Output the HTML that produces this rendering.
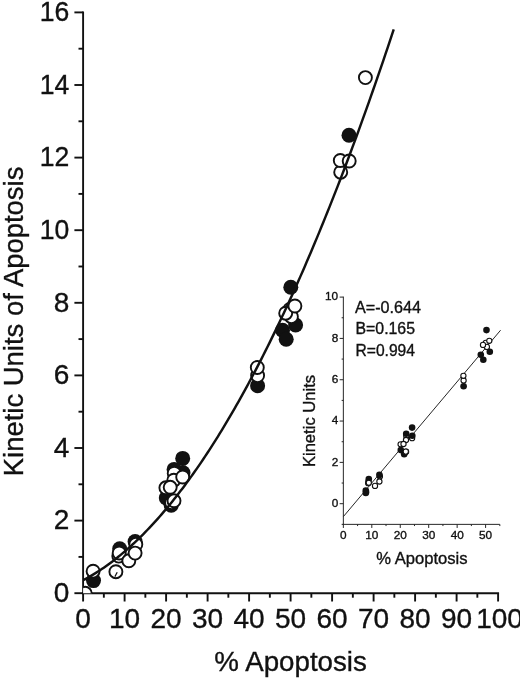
<!DOCTYPE html>
<html lang="en"><head><meta charset="utf-8"><title>Kinetic Units of Apoptosis vs % Apoptosis</title>
<style>html,body{margin:0;padding:0;background:#fff;}body{width:520px;height:679px;overflow:hidden;}svg{display:block;}text{font-family:"Liberation Sans", Arial, Helvetica, sans-serif;fill:#111;stroke:#111;stroke-width:0.35px;}</style>
</head><body>
<svg width="520" height="679" viewBox="0 0 520 679">
<rect x="0" y="0" width="520" height="679" fill="#fff"/>
<defs><clipPath id="plot"><rect x="83.1" y="0" width="440" height="593.2"/></clipPath></defs>
<g stroke="#111" stroke-width="1.90" fill="none" stroke-linecap="butt">
<path d="M83.10 11.45 V594.15"/>
<path d="M82.15 593.20 H499.05"/>
<path d="M74.40 593.20 H83.10"/>
<path d="M78.50 556.90 H83.10"/>
<path d="M74.40 520.60 H83.10"/>
<path d="M78.50 484.30 H83.10"/>
<path d="M74.40 448.00 H83.10"/>
<path d="M78.50 411.70 H83.10"/>
<path d="M74.40 375.40 H83.10"/>
<path d="M78.50 339.10 H83.10"/>
<path d="M74.40 302.80 H83.10"/>
<path d="M78.50 266.50 H83.10"/>
<path d="M74.40 230.20 H83.10"/>
<path d="M78.50 193.90 H83.10"/>
<path d="M74.40 157.60 H83.10"/>
<path d="M78.50 121.30 H83.10"/>
<path d="M74.40 85.00 H83.10"/>
<path d="M78.50 48.70 H83.10"/>
<path d="M74.40 12.40 H83.10"/>
<path d="M83.10 593.20 V601.50"/>
<path d="M103.85 593.20 V597.70"/>
<path d="M124.60 593.20 V601.50"/>
<path d="M145.35 593.20 V597.70"/>
<path d="M166.10 593.20 V601.50"/>
<path d="M186.85 593.20 V597.70"/>
<path d="M207.60 593.20 V601.50"/>
<path d="M228.35 593.20 V597.70"/>
<path d="M249.10 593.20 V601.50"/>
<path d="M269.85 593.20 V597.70"/>
<path d="M290.60 593.20 V601.50"/>
<path d="M311.35 593.20 V597.70"/>
<path d="M332.10 593.20 V601.50"/>
<path d="M352.85 593.20 V597.70"/>
<path d="M373.60 593.20 V601.50"/>
<path d="M394.35 593.20 V597.70"/>
<path d="M415.10 593.20 V601.50"/>
<path d="M435.85 593.20 V597.70"/>
<path d="M456.60 593.20 V601.50"/>
<path d="M477.35 593.20 V597.70"/>
<path d="M498.10 593.20 V601.50"/>
</g>
<g font-size="28" text-anchor="end">
<text transform="translate(69.3 602.0) scale(1 1)">0</text>
<text transform="translate(69.3 529.4) scale(1 1)">2</text>
<text transform="translate(69.3 456.8) scale(1 1)">4</text>
<text transform="translate(69.3 384.2) scale(1 1)">6</text>
<text transform="translate(69.3 311.6) scale(1 1)">8</text>
<text transform="translate(69.3 239.0) scale(0.95 1)">10</text>
<text transform="translate(69.3 166.4) scale(0.95 1)">12</text>
<text transform="translate(69.3 93.8) scale(0.95 1)">14</text>
<text transform="translate(69.3 21.2) scale(0.95 1)">16</text>
</g>
<g font-size="28" text-anchor="middle">
<text x="83.1" y="628.0">0</text>
<text x="124.6" y="628.0">10</text>
<text x="166.1" y="628.0">20</text>
<text x="207.6" y="628.0">30</text>
<text x="249.1" y="628.0">40</text>
<text x="290.6" y="628.0">50</text>
<text x="332.1" y="628.0">60</text>
<text x="373.6" y="628.0">70</text>
<text x="415.1" y="628.0">80</text>
<text x="456.6" y="628.0">90</text>
<text x="499.5" y="628.0">100</text>
</g>
<text transform="translate(290.6 670.8) scale(0.99 1)" font-size="28" text-anchor="middle">% Apoptosis</text>
<text transform="translate(23.2 321.4) rotate(-90) scale(0.98 1)" font-size="28" text-anchor="middle">Kinetic Units of Apoptosis</text>
<g clip-path="url(#plot)">
<g fill="#111" stroke="none">
<circle cx="93.5" cy="580.6" r="7.5"/>
<circle cx="119.7" cy="548.8" r="7.5"/>
<circle cx="135.1" cy="541.5" r="7.5"/>
<circle cx="166.3" cy="497.9" r="7.5"/>
<circle cx="171.2" cy="505.2" r="7.5"/>
<circle cx="174.1" cy="469.4" r="7.5"/>
<circle cx="183.0" cy="472.8" r="7.5"/>
<circle cx="182.7" cy="458.4" r="7.5"/>
<circle cx="257.6" cy="385.7" r="7.5"/>
<circle cx="282.5" cy="330.3" r="7.5"/>
<circle cx="286.2" cy="339.2" r="7.5"/>
<circle cx="295.6" cy="325.0" r="7.5"/>
<circle cx="290.8" cy="287.2" r="7.5"/>
<circle cx="349.0" cy="135.2" r="7.5"/>
</g>
<g fill="#fff" stroke="#111" stroke-width="1.9">
<circle cx="85.2" cy="593.3" r="6.5"/>
<circle cx="93.1" cy="571.2" r="6.5"/>
<circle cx="118.8" cy="556.1" r="6.5"/>
<circle cx="119.2" cy="553.0" r="6.5"/>
<circle cx="115.9" cy="571.7" r="6.5"/>
<circle cx="135.8" cy="544.4" r="6.5"/>
<circle cx="174.2" cy="473.2" r="6.5"/>
<circle cx="173.8" cy="480.2" r="6.5"/>
<circle cx="182.7" cy="477.0" r="6.5"/>
<circle cx="165.9" cy="487.8" r="6.5"/>
<circle cx="170.2" cy="487.3" r="6.5"/>
<circle cx="171.6" cy="502.7" r="6.5"/>
<circle cx="174.0" cy="500.8" r="6.5"/>
<circle cx="257.6" cy="375.6" r="6.5"/>
<circle cx="257.3" cy="367.5" r="6.5"/>
<circle cx="289.8" cy="309.5" r="6.5"/>
<circle cx="291.4" cy="316.7" r="6.5"/>
<circle cx="285.7" cy="313.2" r="6.5"/>
<circle cx="294.9" cy="306.0" r="6.5"/>
<circle cx="340.7" cy="172.2" r="6.5"/>
<circle cx="340.3" cy="160.5" r="6.5"/>
<circle cx="349.2" cy="161.0" r="6.5"/>
<circle cx="365.4" cy="77.6" r="6.5"/>
</g>
<polyline points="83.10,580.28 85.17,579.17 87.24,578.03 89.31,576.86 91.38,575.65 93.45,574.41 95.53,573.14 97.60,571.82 99.67,570.48 101.74,569.10 103.81,567.69 105.88,566.24 107.95,564.75 110.02,563.24 112.09,561.68 114.16,560.10 116.23,558.48 118.30,556.82 120.38,555.13 122.45,553.41 124.52,551.65 126.59,549.85 128.66,548.02 130.73,546.16 132.80,544.27 134.87,542.33 136.94,540.37 139.01,538.37 141.08,536.33 143.15,534.26 145.23,532.16 147.30,530.02 149.37,527.85 151.44,525.64 153.51,523.40 155.58,521.12 157.65,518.81 159.72,516.47 161.79,514.09 163.86,511.67 165.93,509.23 168.00,506.74 170.08,504.22 172.15,501.67 174.22,499.09 176.29,496.47 178.36,493.81 180.43,491.12 182.50,488.40 184.57,485.64 186.64,482.84 188.71,480.02 190.78,477.15 192.86,474.26 194.93,471.33 197.00,468.36 199.07,465.36 201.14,462.33 203.21,459.26 205.28,456.15 207.35,453.02 209.42,449.84 211.49,446.64 213.56,443.39 215.63,440.12 217.71,436.81 219.78,433.46 221.85,430.08 223.92,426.67 225.99,423.22 228.06,419.74 230.13,416.22 232.20,412.67 234.27,409.08 236.34,405.46 238.41,401.81 240.48,398.12 242.56,394.39 244.63,390.64 246.70,386.84 248.77,383.02 250.84,379.15 252.91,375.26 254.98,371.33 257.05,367.36 259.12,363.36 261.19,359.33 263.26,355.26 265.33,351.15 267.41,347.02 269.48,342.84 271.55,338.64 273.62,334.40 275.69,330.12 277.76,325.81 279.83,321.47 281.90,317.09 283.97,312.67 286.04,308.23 288.11,303.74 290.18,299.23 292.26,294.67 294.33,290.09 296.40,285.47 298.47,280.81 300.54,276.12 302.61,271.40 304.68,266.64 306.75,261.85 308.82,257.02 310.89,252.16 312.96,247.26 315.04,242.33 317.11,237.37 319.18,232.37 321.25,227.34 323.32,222.27 325.39,217.16 327.46,212.03 329.53,206.85 331.60,201.65 333.67,196.41 335.74,191.13 337.81,185.82 339.89,180.48 341.96,175.10 344.03,169.69 346.10,164.24 348.17,158.76 350.24,153.24 352.31,147.69 354.38,142.10 356.45,136.48 358.52,130.83 360.59,125.14 362.66,119.41 364.74,113.66 366.81,107.86 368.88,102.04 370.95,96.18 373.02,90.28 375.09,84.35 377.16,78.38 379.23,72.38 381.30,66.35 383.37,60.28 385.44,54.18 387.51,48.04 389.59,41.87 391.66,35.66 393.73,29.42" fill="none" stroke="#111" stroke-width="2.45" stroke-linejoin="round"/>
<g fill="#fff" stroke="#111" stroke-width="1.9">
<circle cx="128.8" cy="560.8" r="6.5"/>
<circle cx="135.1" cy="553.1" r="6.5"/>
</g>
<path d="M114.9 576.6 L117.2 572.2" stroke="#111" stroke-width="1.2" fill="none"/>
</g>
<g stroke="#262626" stroke-width="1" fill="none">
<path d="M343.35 296.60 V524.86"/>
<path d="M342.85 524.36 H499.83"/>
<path d="M341.65 524.36 H343.35"/>
<path d="M339.65 503.70 H343.35"/>
<path d="M341.65 483.04 H343.35"/>
<path d="M339.65 462.38 H343.35"/>
<path d="M341.65 441.72 H343.35"/>
<path d="M339.65 421.06 H343.35"/>
<path d="M341.65 400.40 H343.35"/>
<path d="M339.65 379.74 H343.35"/>
<path d="M341.65 359.08 H343.35"/>
<path d="M339.65 338.42 H343.35"/>
<path d="M341.65 317.76 H343.35"/>
<path d="M339.65 297.10 H343.35"/>
<path d="M343.35 524.36 V527.96"/>
<path d="M357.58 524.36 V526.06"/>
<path d="M371.80 524.36 V527.96"/>
<path d="M386.03 524.36 V526.06"/>
<path d="M400.25 524.36 V527.96"/>
<path d="M414.48 524.36 V526.06"/>
<path d="M428.70 524.36 V527.96"/>
<path d="M442.93 524.36 V526.06"/>
<path d="M457.15 524.36 V527.96"/>
<path d="M471.38 524.36 V526.06"/>
<path d="M485.60 524.36 V527.96"/>
<path d="M499.83 524.36 V526.06"/>
<path d="M343.3 516.7 L500.6 330.2" stroke-width="1"/>
</g>
<g style="stroke-width:0.2px">
<g font-size="11.8" text-anchor="end">
<text x="338.2" y="507.0">0</text>
<text x="338.2" y="465.7">2</text>
<text x="338.2" y="424.4">4</text>
<text x="338.2" y="383.0">6</text>
<text x="338.2" y="341.7">8</text>
<text x="338.2" y="300.4">10</text>
</g>
<g font-size="11.8" text-anchor="middle">
<text x="343.4" y="538.7">0</text>
<text x="371.8" y="538.7">10</text>
<text x="400.2" y="538.7">20</text>
<text x="428.7" y="538.7">30</text>
<text x="457.2" y="538.7">40</text>
<text x="485.6" y="538.7">50</text>
</g>
<text x="421.9" y="564" font-size="16.6" text-anchor="middle">% Apoptosis</text>
<text transform="translate(315.2 421) rotate(-90)" font-size="16.6" text-anchor="middle">Kinetic Units</text>
<g font-size="16.2">
<text x="355" y="312.6" textLength="66" lengthAdjust="spacingAndGlyphs">A=-0.644</text>
<text x="355.5" y="333.8" textLength="59.5" lengthAdjust="spacingAndGlyphs">B=0.165</text>
<text x="355.5" y="356.2" textLength="59.5" lengthAdjust="spacingAndGlyphs">R=0.994</text>
</g>
</g>
<g fill="#fff" stroke="#111" stroke-width="1.1">
<circle cx="368.2" cy="483.2" r="2.6"/>
<circle cx="368.4" cy="481.4" r="2.6"/>
<circle cx="366.2" cy="492.1" r="2.6"/>
<circle cx="379.9" cy="476.5" r="2.6"/>
<circle cx="406.3" cy="436.0" r="2.6"/>
<circle cx="406.0" cy="440.0" r="2.6"/>
<circle cx="412.1" cy="438.2" r="2.6"/>
<circle cx="400.6" cy="444.3" r="2.6"/>
<circle cx="403.5" cy="444.0" r="2.6"/>
<circle cx="404.5" cy="452.8" r="2.6"/>
<circle cx="406.1" cy="451.7" r="2.6"/>
<circle cx="463.6" cy="380.5" r="2.6"/>
<circle cx="463.4" cy="375.8" r="2.6"/>
<circle cx="485.8" cy="342.8" r="2.6"/>
<circle cx="486.9" cy="346.9" r="2.6"/>
<circle cx="483.0" cy="344.9" r="2.6"/>
<circle cx="489.3" cy="340.8" r="2.6"/>
<circle cx="375.0" cy="485.9" r="2.6"/>
<circle cx="379.4" cy="481.5" r="2.6"/>
</g>
<g fill="#111" stroke="none">
<circle cx="368.8" cy="479.0" r="3.3"/>
<circle cx="379.4" cy="474.9" r="3.3"/>
<circle cx="400.8" cy="450.1" r="3.3"/>
<circle cx="404.2" cy="454.2" r="3.3"/>
<circle cx="406.2" cy="433.8" r="3.3"/>
<circle cx="412.3" cy="435.8" r="3.3"/>
<circle cx="412.1" cy="427.6" r="3.3"/>
<circle cx="463.6" cy="386.2" r="3.3"/>
<circle cx="480.8" cy="354.7" r="3.3"/>
<circle cx="483.3" cy="359.7" r="3.3"/>
<circle cx="489.8" cy="351.7" r="3.3"/>
<circle cx="486.5" cy="330.1" r="3.3"/>
<circle cx="526.5" cy="243.6" r="3.3"/>
<circle cx="365.8" cy="490.6" r="3.3"/>
<circle cx="365.8" cy="492.9" r="3.3"/>
</g>
<g fill="#fff" stroke="#111" stroke-width="1.1">
<circle cx="368.8" cy="482.8" r="2.6"/>
<circle cx="405.8" cy="451.6" r="2.6"/>
</g>
</svg>
</body></html>
